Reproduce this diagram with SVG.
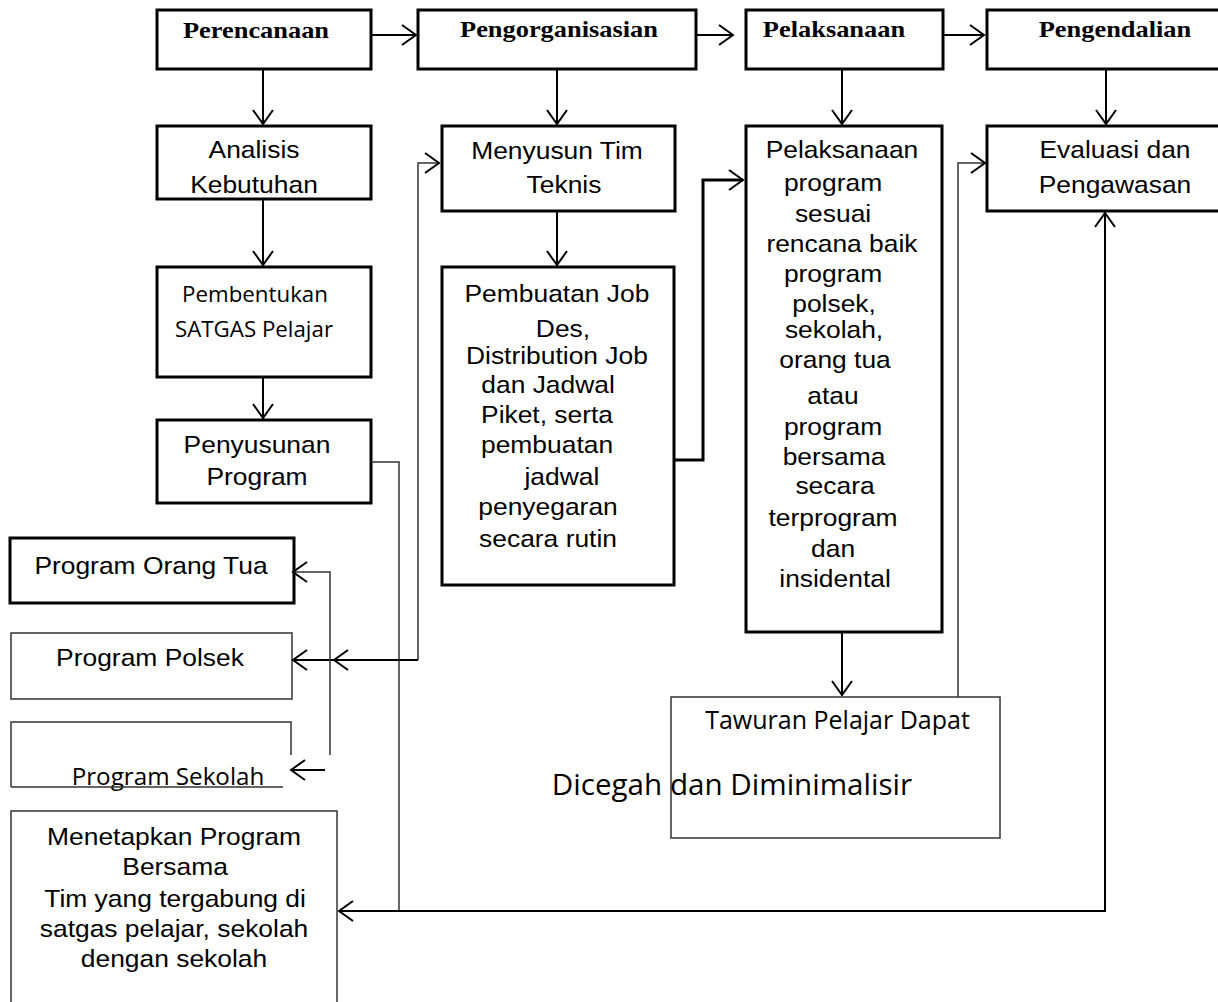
<svg xmlns="http://www.w3.org/2000/svg" width="1218" height="1002" viewBox="0 0 1218 1002">
<defs>
<marker id="ah" viewBox="0 0 20 24" markerUnits="userSpaceOnUse" markerWidth="20" markerHeight="24" refX="17" refY="12" orient="auto">
<path d="M3,2 L17,12 L3,22" fill="none" stroke="#000" stroke-width="2"/>
</marker>
</defs>
<style>
.bx{fill:#fff;stroke:#000;stroke-width:3}
.tn{fill:#fff;stroke:#333;stroke-width:1.5}
.a{font-family:"Liberation Sans",Arial,sans-serif;font-size:24px;text-anchor:middle;fill:#000}
.t{font-family:"Liberation Serif","Times New Roman",serif;font-size:24px;font-weight:bold;text-anchor:middle;fill:#000}
.c{font-family:"Open Sans","Noto Sans",sans-serif;text-anchor:middle;fill:#000}
.k{fill:none;stroke:#000;stroke-width:2}
.k3{fill:none;stroke:#000;stroke-width:3}
.kt{fill:none;stroke:#333;stroke-width:1.5}
</style>
<rect width="1218" height="1002" fill="#fff"/>

<g id="perencanaan">
<rect class="bx" x="157" y="10" width="214" height="59"/>
<g transform="matrix(1.1,0,0,1,-25.6,0)"><text class="t" x="256" y="38">Perencanaan</text></g>
</g>
<g id="pengorganisasian">
<rect class="bx" x="418" y="10" width="278" height="59"/>
<g transform="matrix(1.1,0,0,1,-55.9,0)"><text class="t" x="559" y="37">Pengorganisasian</text></g>
</g>
<g id="pelaksanaan">
<rect class="bx" x="746" y="10" width="197" height="59"/>
<g transform="matrix(1.1,0,0,1,-83.4,0)"><text class="t" x="834" y="37">Pelaksanaan</text></g>
</g>
<g id="pengendalian">
<rect class="bx" x="987" y="10" width="240" height="59"/>
<g transform="matrix(1.1,0,0,1,-111.5,0)"><text class="t" x="1115" y="37">Pengendalian</text></g>
</g>

<g id="analisis">
<rect class="bx" x="157" y="126" width="214" height="73"/>
<g transform="matrix(1.1,0,0,1,-25.4,0)">
<text class="a" x="254" y="158">Analisis</text>
<text class="a" x="254" y="193">Kebutuhan</text>
</g>
</g>
<g id="pembentukan">
<rect class="bx" x="157" y="267" width="214" height="110"/>
<text class="c" style="font-size:22.3px" x="255" y="302">Pembentukan</text>
<text class="c" style="font-size:22.3px" x="254" y="337">SATGAS Pelajar</text>
</g>
<g id="penyusunan">
<rect class="bx" x="157" y="420" width="214" height="83"/>
<g transform="matrix(1.1,0,0,1,-25.7,0)">
<text class="a" x="257" y="453">Penyusunan</text>
<text class="a" x="257" y="485">Program</text>
</g>
</g>

<g id="menyusun">
<rect class="bx" x="442" y="126" width="233" height="85"/>
<g transform="matrix(1.1,0,0,1,-55.7,0)">
<text class="a" x="557" y="159">Menyusun Tim</text>
<text class="a" x="563.4" y="193">Teknis</text>
</g>
</g>
<g id="pembuatan">
<rect class="bx" x="442" y="267" width="232" height="318"/>
<g transform="matrix(1.1,0,0,1,-55.2,0)">
<text class="a" x="556.5" y="302">Pembuatan Job</text>
<text class="a" x="562" y="337">Des,</text>
<text class="a" x="556.5" y="364">Distribution Job</text>
<text class="a" x="548.4" y="393">dan Jadwal</text>
<text class="a" x="547.5" y="423">Piket, serta</text>
<text class="a" x="547.5" y="453">pembuatan</text>
<text class="a" x="561" y="485">jadwal</text>
<text class="a" x="548.4" y="515">penyegaran</text>
<text class="a" x="548.4" y="547">secara rutin</text>
</g>
</g>

<g id="pelaksanaan-program">
<rect class="bx" x="746" y="126" width="196" height="506"/>
<g transform="matrix(1.1,0,0,1,-83.8,0)">
<text class="a" x="841.6" y="158">Pelaksanaan</text>
<text class="a" x="833.5" y="191">program</text>
<text class="a" x="833.5" y="222">sesuai</text>
<text class="a" x="841.6" y="252">rencana baik</text>
<text class="a" x="833.5" y="282">program</text>
<text class="a" x="834.4" y="312">polsek,</text>
<text class="a" x="834.4" y="338">sekolah,</text>
<text class="a" x="835.3" y="368">orang tua</text>
<text class="a" x="833.5" y="404">atau</text>
<text class="a" x="833.5" y="435">program</text>
<text class="a" x="834.4" y="465">bersama</text>
<text class="a" x="835.3" y="494">secara</text>
<text class="a" x="833.5" y="526">terprogram</text>
<text class="a" x="833.5" y="557">dan</text>
<text class="a" x="835.3" y="587">insidental</text>
</g>
</g>

<g id="evaluasi">
<rect class="bx" x="987" y="126" width="240" height="85"/>
<g transform="matrix(1.1,0,0,1,-111.5,0)">
<text class="a" x="1115" y="158">Evaluasi dan</text>
<text class="a" x="1115" y="193">Pengawasan</text>
</g>
</g>

<g id="tawuran">
<rect class="tn" x="671" y="697" width="329" height="141"/>
<text class="c" style="font-size:25px" x="837.5" y="729">Tawuran Pelajar Dapat</text>
<text class="c" style="font-size:29.6px" x="732" y="795">Dicegah dan Diminimalisir</text>
</g>

<g id="program-orang-tua">
<rect class="bx" x="10" y="538" width="284" height="65"/>
<g transform="matrix(1.1,0,0,1,-15.1,0)"><text class="a" x="151" y="574">Program Orang Tua</text></g>
</g>
<g id="program-polsek">
<rect class="tn" x="11" y="633" width="281" height="66"/>
<g transform="matrix(1.1,0,0,1,-15,0)"><text class="a" x="150" y="666">Program Polsek</text></g>
</g>
<g id="program-sekolah">
<path class="tn" d="M291,755 V722 H11 V787"/>
<text class="c" style="font-size:24.2px" x="168" y="785">Program Sekolah</text>
<path class="tn" d="M11,787 H283"/>
</g>
<g id="menetapkan">
<rect class="tn" x="11" y="811" width="326" height="200"/>
<g transform="matrix(1.1,0,0,1,-17.4,0)">
<text class="a" x="174" y="845">Menetapkan Program</text>
<text class="a" x="175" y="875">Bersama</text>
<text class="a" x="175" y="907">Tim yang tergabung di</text>
<text class="a" x="174" y="937">satgas pelajar, sekolah</text>
<text class="a" x="174" y="967">dengan sekolah</text>
</g>
</g>

<g id="connectors">
<path class="k" d="M371,35 H416" marker-end="url(#ah)"/>
<path class="k" d="M696,35 H733" marker-end="url(#ah)"/>
<path class="k" d="M943,35 H984" marker-end="url(#ah)"/>
<path class="k" d="M263,69 V124" marker-end="url(#ah)"/>
<path class="k" d="M557,69 V124" marker-end="url(#ah)"/>
<path class="k" d="M842,69 V124" marker-end="url(#ah)"/>
<path class="k" d="M1106,69 V124" marker-end="url(#ah)"/>
<path class="k" d="M263,199 V265" marker-end="url(#ah)"/>
<path class="k" d="M263,377 V418" marker-end="url(#ah)"/>
<path class="k" d="M557,211 V265" marker-end="url(#ah)"/>
<path class="k" d="M842,632 V695" marker-end="url(#ah)"/>
<path class="k3" d="M674,460 H703 V180 H743" marker-end="url(#ah)"/>
<path class="kt" d="M371,462 H399 V911"/>
<path class="k" d="M399,911 H339" marker-end="url(#ah)"/>
<path class="k" d="M399,911 H1105 V213" marker-end="url(#ah)"/>
<path class="kt" d="M418,660 V163 H439" marker-end="url(#ah)"/>
<path class="k" d="M418,660 H334" marker-end="url(#ah)"/>
<path class="k" d="M334,660 H293" marker-end="url(#ah)"/>
<path class="kt" d="M330,755 V572 H293" marker-end="url(#ah)"/>
<path class="k" d="M325,770 H291" marker-end="url(#ah)"/>
<path class="kt" d="M958,697 V163 H985" marker-end="url(#ah)"/>
</g>
</svg>
